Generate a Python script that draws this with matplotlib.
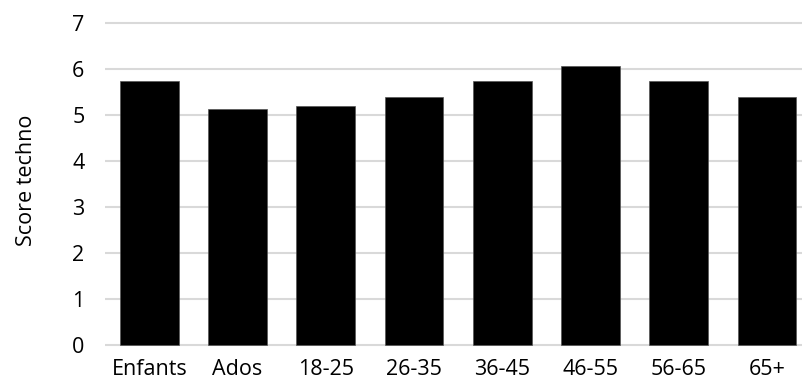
import numpy as np
import matplotlib
matplotlib.use('Agg')
import matplotlib.pyplot as plt

# Data
categories = ['Enfants', 'Ados', '18-25', '26-35', '36-45', '46-55', '56-65', '65+']
scores = [5.75, 5.13, 5.19, 5.40, 5.75, 6.08, 5.75, 5.40]

plt.rcParams['font.family'] = ['Open Sans', 'DejaVu Sans']
font_size = 15.5

fig = plt.figure(figsize=(8.02, 3.8), dpi=100)
# chart is cropped slightly on the right, like the original
ax = fig.add_axes([0.1312, 0.080, 0.880, 0.883])

x = np.arange(len(categories))
ax.bar(x, scores, width=0.665, color='black', edgecolor='#555555', linewidth=0.5, zorder=3)

ax.set_xlim(-0.5, len(categories) - 0.5)
ax.set_ylim(-0.1, 7.2)
ax.set_yticks(range(0, 8))
ax.set_xticks(x)
ax.set_xticklabels(categories)

ax.grid(axis='y', color='#d9d9d9', linewidth=1.5, zorder=0)
ax.tick_params(axis='y', length=0, pad=15, labelsize=font_size)
ax.tick_params(axis='x', length=0, pad=7, labelsize=font_size)

for side in ['top', 'right', 'left', 'bottom']:
    ax.spines[side].set_visible(False)

ax.set_ylabel('Score techno', fontsize=font_size)
ax.yaxis.set_label_coords(-0.097, 0.505)

plt.savefig('out.png', dpi=100)
